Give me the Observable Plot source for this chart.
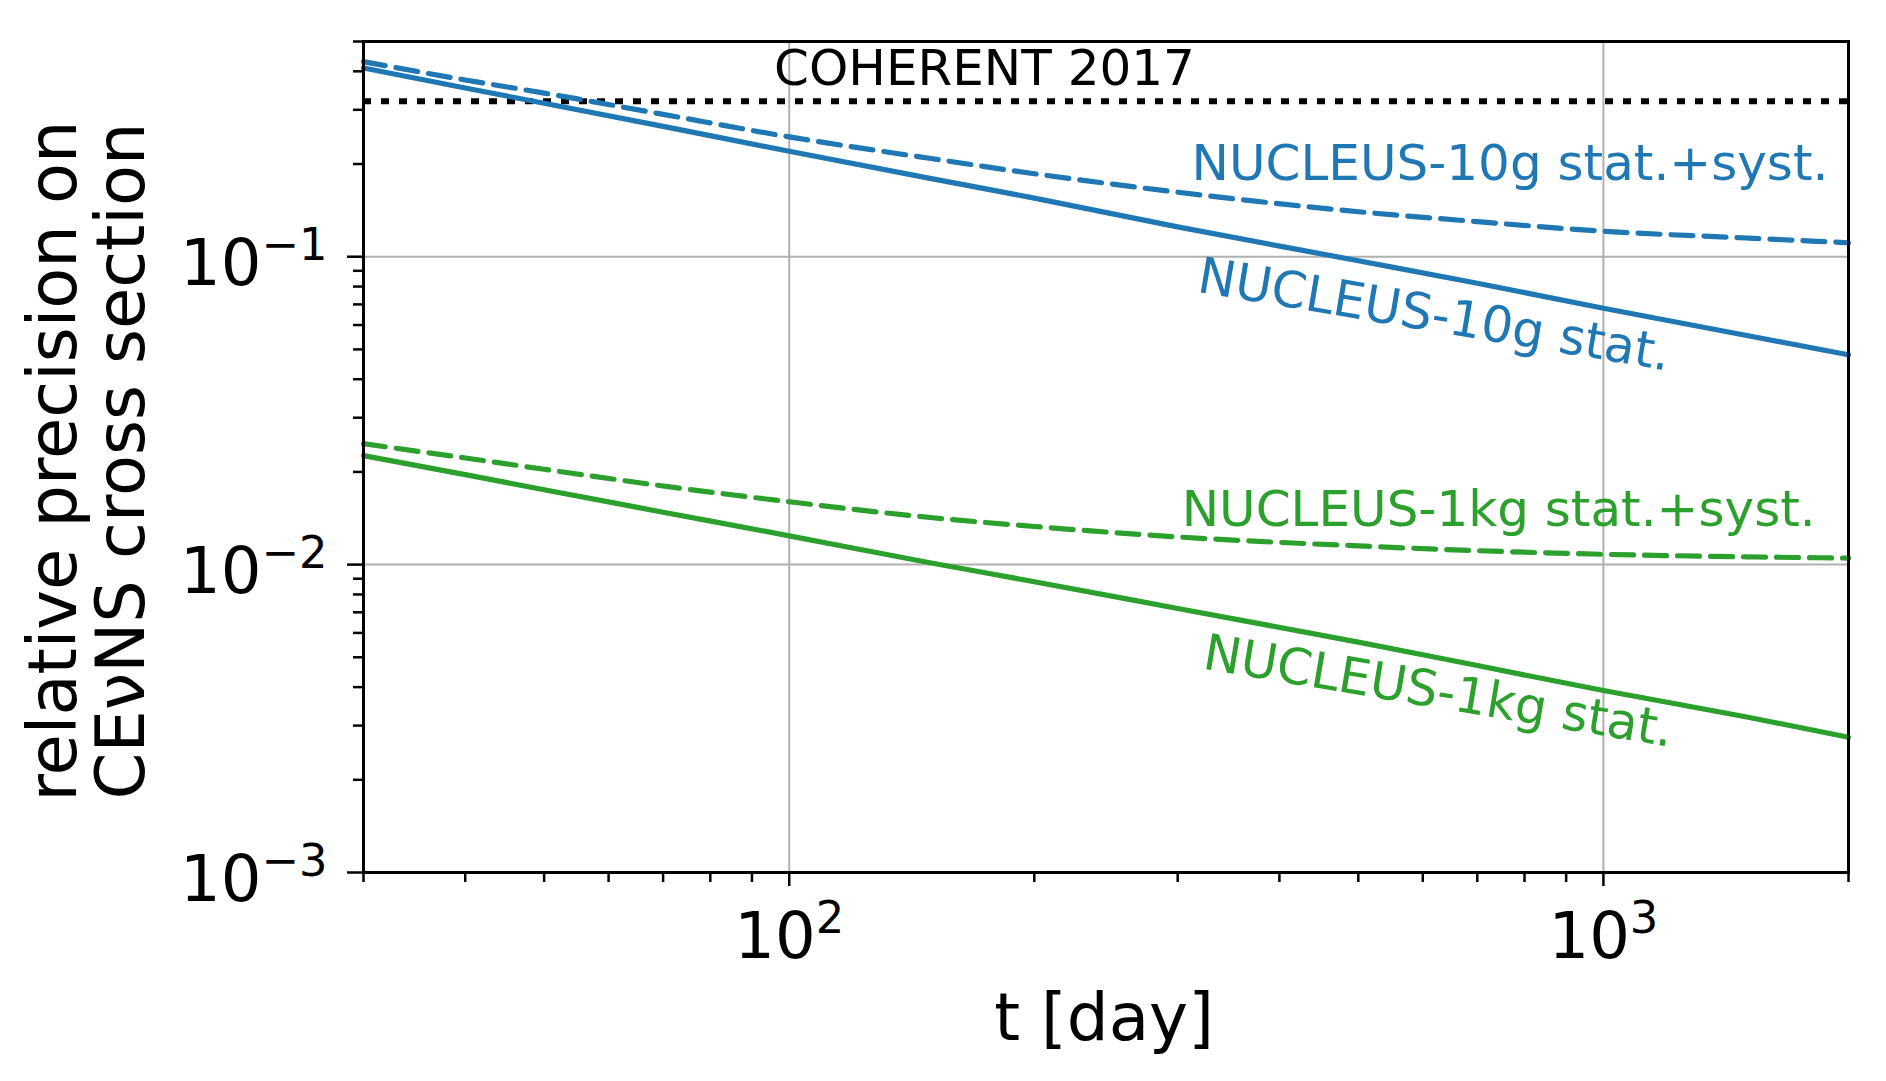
<!DOCTYPE html>
<html><head><meta charset="utf-8">
<script src="https://cdn.jsdelivr.net/npm/d3@7"></script>
<script src="https://cdn.jsdelivr.net/npm/@observablehq/plot@0.6"></script>
<style>body{margin:0;background:#fff;} svg{display:block;}</style>
</head><body><div id="chart"></div>
<script>
// ---- data ----
const days        = [30,    40,    50,    70,    100,   150,   200,   300,   500,   700,   1000,  1500,  2000];
const stat10g     = [0.41,  0.353, 0.315, 0.265, 0.22,  0.179, 0.155, 0.125, 0.097, 0.082, 0.068, 0.0555,0.048];
const statSyst10g = [0.43,  0.375, 0.34,  0.29,  0.245, 0.208, 0.186, 0.162, 0.14,  0.13,  0.121, 0.115, 0.111];
const stat1kg     = [0.0226,0.0196,0.0175,0.0148,0.0124,0.0101,0.0088,0.0072,0.0056,0.0047,0.0039,0.0032,0.00275];
const statSyst1kg = [0.0247,0.0222,0.0204,0.018, 0.016, 0.0142,0.0133,0.0123,0.0115,0.0111,0.0108,0.0106,0.0105];
const coherent2017 = [0.32];

const xMajorTicks = [100, 1000];
const xMinorTicks = [30,40,50,60,70,80,90,200,300,400,500,600,700,800,900,2000];
const yMajorTicks = [0.001, 0.01, 0.1];
const yMinorTicks = [0.002,0.003,0.004,0.005,0.006,0.007,0.008,0.009,
                     0.02,0.03,0.04,0.05,0.06,0.07,0.08,0.09,0.2,0.3,0.4,0.5];

const labelsBlack = [{t: 173.7, v: 0.362, text: "COHERENT 2017"}];
const labelsBlue  = [{t: 312,   v: 0.1778, text: "NUCLEUS-10g stat.+syst."}];
const labelsBlueR = [{t: 316,   v: 0.077, text: "NUCLEUS-10g stat."}];
const labelsGreen = [{t: 303.4, v: 0.0133, text: "NUCLEUS-1kg stat.+syst."}];
const labelsGreenR= [{t: 321,   v: 0.0046, text: "NUCLEUS-1kg stat."}];

const toRows = vals => days.map((t, i) => ({t, v: vals[i]}));

const BLUE = "#1f77b4", GREEN = "#2ca02c";

const chart = Plot.plot({
  width: 1886, height: 1081,
  marginLeft: 363, marginRight: 38, marginTop: 41, marginBottom: 209,
  style: {fontFamily: "DejaVu Sans", background: "white", color: "black"},
  x: {type: "log", domain: [30, 2000]},
  y: {type: "log", domain: [0.001, 0.5]},
  marks: [
    Plot.gridX(xMajorTicks, {stroke: "#b0b0b0", strokeOpacity: 1, strokeWidth: 2}),
    Plot.gridY(yMajorTicks, {stroke: "#b0b0b0", strokeOpacity: 1, strokeWidth: 2}),
    Plot.ruleY(coherent2017, {stroke: "black", strokeWidth: 6, strokeDasharray: "8,10"}),
    Plot.line(toRows(stat10g), {x: "t", y: "v", stroke: BLUE, strokeWidth: 5.2, curve: "monotone-x"}),
    Plot.line(toRows(statSyst10g), {x: "t", y: "v", stroke: BLUE, strokeWidth: 5.2, strokeDasharray: "22,11", curve: "monotone-x"}),
    Plot.line(toRows(stat1kg), {x: "t", y: "v", stroke: GREEN, strokeWidth: 5.2, curve: "monotone-x"}),
    Plot.line(toRows(statSyst1kg), {x: "t", y: "v", stroke: GREEN, strokeWidth: 5.2, strokeDasharray: "22,11", curve: "monotone-x"}),
    Plot.text(labelsBlack, {x: "t", y: "v", text: "text", fill: "black", fontSize: 50, textAnchor: "middle", lineAnchor: "bottom"}),
    Plot.text(labelsBlue, {x: "t", y: "v", text: "text", fill: BLUE, fontSize: 50, textAnchor: "start", lineAnchor: "bottom"}),
    Plot.text(labelsBlueR, {x: "t", y: "v", text: "text", fill: BLUE, fontSize: 50, textAnchor: "start", lineAnchor: "bottom", rotate: 9.5}),
    Plot.text(labelsGreen, {x: "t", y: "v", text: "text", fill: GREEN, fontSize: 50, textAnchor: "start", lineAnchor: "bottom"}),
    Plot.text(labelsGreenR, {x: "t", y: "v", text: "text", fill: GREEN, fontSize: 50, textAnchor: "start", lineAnchor: "bottom", rotate: 9.5}),
    Plot.axisX(xMinorTicks, {tickSize: 10, strokeWidth: 2.5, tickFormat: () => "", label: null}),
    Plot.axisX(xMajorTicks, {tickSize: 14, tickPadding: 26, strokeWidth: 2.5, fontSize: 64,
      tickFormat: d => "10^" + Math.round(Math.log10(d)), label: null}),
    Plot.axisY(yMinorTicks, {tickSize: 10, strokeWidth: 2.5, tickFormat: () => "", label: null}),
    Plot.axisY(yMajorTicks, {tickSize: 16, tickPadding: 20, strokeWidth: 2.5, fontSize: 64,
      tickFormat: d => "10^" + Math.round(Math.log10(d)), label: null}),
    Plot.frame({stroke: "black", strokeWidth: 3}),
    Plot.text(["t [day]"], {frameAnchor: "bottom", dy: 167, dx: -2, fontSize: 66, lineAnchor: "bottom", fill: "black"}),
    Plot.text(["relative precision on"], {frameAnchor: "left", dx: -288, dy: 4, rotate: -90, fontSize: 67, lineAnchor: "bottom", textAnchor: "middle", fill: "black"}),
    Plot.text(["CE\u03BDNS cross section"], {frameAnchor: "left", dx: -220, dy: 4, rotate: -90, fontSize: 67, lineAnchor: "bottom", textAnchor: "middle", fill: "black"})
  ]
});

// superscript exponents on the decade tick labels
d3.select(chart).selectAll("text").each(function() {
  const el = d3.select(this);
  const m = el.text().match(/^10\^(-?\d+)$/);
  if (!m) return;
  const isY = (this.parentNode.getAttribute("aria-label") || "").startsWith("y-axis");
  el.text("");
  el.append("tspan").attr("dy", isY ? 8 : 0).text("10");
  el.append("tspan").attr("dy", -25).attr("font-size", "0.7em").text(m[1].replace("-", "\u2212"));
});

document.getElementById("chart").append(chart);
</script>
</body></html>
